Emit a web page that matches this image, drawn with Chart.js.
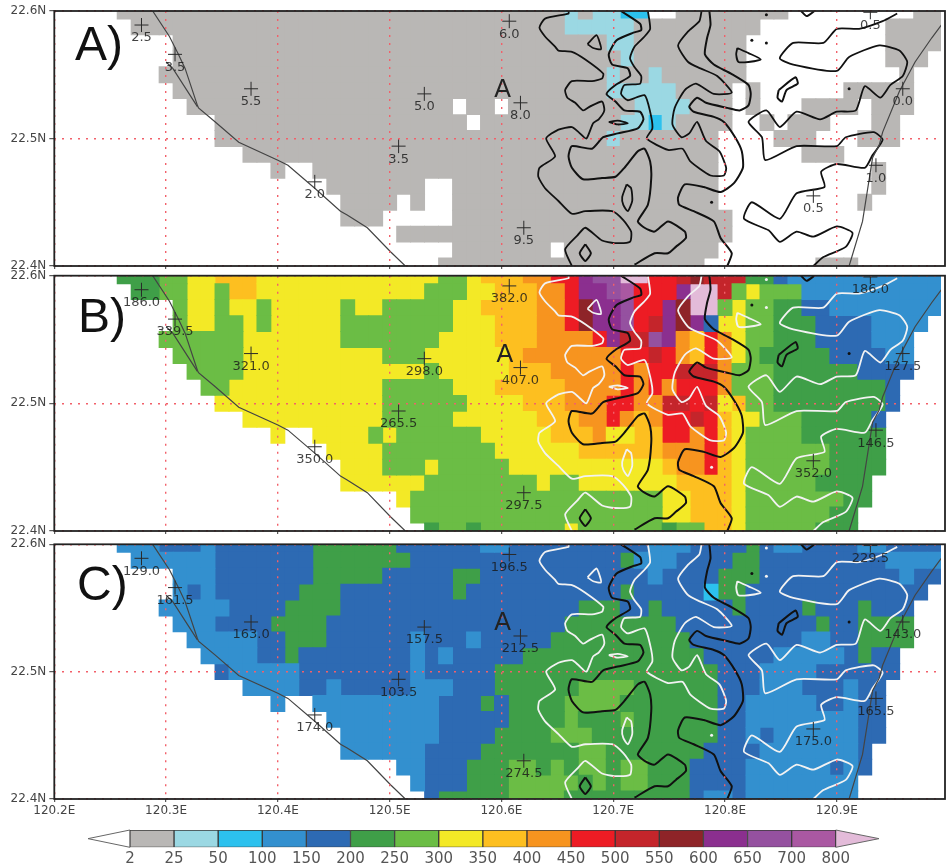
<!DOCTYPE html>
<html><head><meta charset="utf-8">
<style>
html,body{margin:0;padding:0;background:#fff;overflow:hidden}
#wrap{position:relative;width:949px;height:868px}
canvas{position:absolute;left:0;top:0;filter:blur(0.55px)}
</style>
<script src="https://cdn.jsdelivr.net/npm/chart.js@4"></script>
</head><body><div id="wrap">
<canvas id="pa" width="949" height="868"></canvas>
<canvas id="pb" width="949" height="868"></canvas>
<canvas id="pc" width="949" height="868"></canvas>
<canvas id="bar" width="949" height="868"></canvas>
</div>
<script>
// colour-class edges (rain, mm) and the class letter used in the grids
const levelEdges=[2,25,50,100,150,200,250,300,350,400,450,500,550,600,650,700,800];
const levelKeys="abcdefghijklmnopq".split("");
const levelColors=["#b9b7b5","#9bd8e3","#2cc1ee","#3390cf","#2d6ab3","#3f9f48","#6bbd45","#f3e926","#fdbf20","#f7941f","#ed1c24","#c4252b","#8e2428","#8b2f8f","#9551a0","#aa58a2","#e3bbd9"];

// grid rows north to south; each token = class letter + first column of that run ('.' = no colour)
const gridA=[
"a5 b37 a38 b39 c41 .43 a45 .53 a62",
"a6 b37 a42 .51 a60",
"a9 b40 a42 .50 a60",
"a9 b41 a42 .50 a60 .63",
"a8 b40 a41 b43 a44 .50 a61 .62",
"a9 b40 a45 .49 a50 .51 a57 .62",
"a10 .29 a30 .32 a33 b42 a46 .49 a50 .51 a54 .58 a59 .62",
"a12 .30 a31 b41 c43 b44 a45 .49 a51 .52 a53 .56 a59 .61",
"a12 b40 a41 .48 a52 .55 a58 .61",
"a14 .48 a54 .57",
"a16 .17 a19 .48 a59 .60",
"a20 .27 a29 .48 a59 .60",
"a21 .25 a26 .27 a29 .48 a58 .59",
"a21 .24 a29 .49",
"a25 .49",
"a29 .36 a37 .48",
"a28 .47 a55 .58"];
const gridB=[
"f5 g8 h10 i12 h15 g28 h30 i31 j34 k36 n38 o39 q41 k43 l45 m46 l47 f50 e52 d53",
"f6 g8 h10 g12 i13 h15 g27 h30 i32 j35 k37 n38 o40 p41 k42 n45 q46 l48 g49 h50 g51 d54",
"g9 h10 g12 h13 g15 h16 g21 h22 g24 h29 i31 j35 k37 m38 n39 o41 k42 n44 m45 q46 g48 h49 g50 f52 e54 d56",
"g9 h10 g12 h14 g15 h16 g21 h29 i32 j35 k37 m38 n39 o41 k42 l43 n44 m45 n46 e47 h48 g50 f52 e55 d59 .63",
"g8 h14 g21 h28 i32 j35 k39 n40 l41 o43 n44 j45 i46 k47 j48 h49 g50 f52 e55 d59 .62",
"g9 h14 g24 h27 i33 j34 k41 l43 k44 j45 i46 k47 j48 h49 g50 f51 e56 d60 .62",
"g10 h14 g27 h28 i33 j36 k41 j42 k43 l45 j48 g49 f52 e58 .62",
"g11 h13 g24 h29 i32 j37 k41 j42 k43 j44 k45 j48 g49 f52 e60 .61",
"h12 g24 h30 i34 j37 k40 j42 l44 k46 l47 h48 i49 g50 f52 e60 .61",
"h14 g24 h29 i35 j38 k40 j41 i42 j43 k44 l46 k47 i48 h49 g51 f54 e59 .60",
"h16 .17 h19 g23 h24 g25 h31 i36 j39 h40 i42 k44 j46 k47 i48 h49 g50 f54 .60",
"h20 g24 h32 i38 j44 k47 i48 h49 g50 f56 .60",
"h21 g24 h27 g28 h33 i44 j45 k47 i48 h49 g50 f56 .60",
"h21 g27 h35 g36 h38 i45 h49 g50 f55 .59",
"h25 g26 h44 i46 h49 g50 f57 .59",
"g26 h44 i46 h49 g50 f56 .58",
"f27 g28 f30 g31 h37 g38 f44 g45 i47 h49 g50 f55 .58"];
const gridC=[
"d5 e8 d11 e12 f19 e25 d31 e33 d43 e46 f50 e51 d52 e54 d58 e60",
"d6 e12 f19 e26 f41 d42 e45 f49 e51 d60",
"d9 e12 f19 e24 f29 e31 d43 e44 f48 e51 d61 e62",
"d9 e10 d11 e12 f18 e21 f29 e30 f41 e42 c47 f48 e50 .63",
"d8 e13 f17 e21 f38 e41 f43 e44 f49 e50 f54 e55 f58 e59 .62",
"d9 e12 f16 e20 f37 e45 f55 e56 f58 .62",
"d10 e15 f17 e20 d26 e27 d30 e31 f36 e46 d54 e56 f58 .62",
"d11 e15 f17 e18 d26 e27 d28 e29 f34 e47 d52 e57 f58 e59 .61",
"e12 d13 e18 d26 e27 f32 e48 d51 e55 .61",
"d14 e18 d20 e21 d26 e29 f32 g38 f42 e48 d51 e54 d57 e58 .60",
"d16 .17 d19 e28 f31 e32 f33 g37 f41 e48 d50 e55 d57 e58 .60",
"d20 e28 f33 g37 f38 g41 f42 e48 d50 e58 .60",
"d21 e28 f32 g36 f39 e48 d50 e51 d52 e58 .60",
"d21 e27 f31 g38 f40 e47 d51 e58 .59",
"d25 e27 f30 g33 f35 g36 f37 g38 f40 g41 f43 e46 d50 e56 d57 e58 .59",
"d26 e27 f30 g33 f38 g39 f40 g41 f43 e46 d50 .58",
"e27 f28 g33 f37 e46 d47 e49 d50 .58"];

// stations: longitude, latitude, and the value plotted in each panel
const stationLon=[120.278,120.308,120.376,120.433,120.508,120.531,120.607,120.617,120.620,120.879,120.935,120.959,120.930];
const stationLat=[22.589,22.566,22.539,22.466,22.494,22.535,22.592,22.528,22.430,22.455,22.479,22.539,22.599];
const stationA=["2.5","3.5","5.5","2.0","3.5","5.0","6.0","8.0","9.5","0.5","1.0","0.0","0.5"];
const stationB=["186.0","339.5","321.0","350.0","265.5","298.0","382.0","407.0","297.5","352.0","146.5","127.5","186.0"];
const stationC=["129.0","161.5","163.0","174.0","103.5","157.5","196.5","212.5","274.5","175.0","165.5","143.0","229.5"];

// contours and coast as [lon-120, lat-22] in thousandths of a degree
const contourLow=[
[[660,600],[660,598],[639,594],[634,587],[639,580],[648,572],[651,569],[663,568],[675,562],[691,551],[690,547],[681,545],[663,545],[657,538],[659,532],[666,528],[673,522],[679,525],[690,529],[692,522],[687,515],[682,512],[676,500],[669,505],[663,509],[651,507],[640,500],[648,486],[634,477],[633,470],[639,461],[651,451],[663,441],[675,443],[699,443],[709,436],[716,427],[715,419],[701,418],[690,420],[675,430],[668,424],[657,413],[663,400]],
[[677,574],[685,581],[688,575],[689,570],[682,571],[677,574]],
[[712,464],[716,461],[717,451],[713,443],[709,448],[708,454],[712,464]],
[[696,513],[704,514],[713,512],[704,511],[696,513]],
[[731,600],[733,586],[728,580],[719,572],[715,563],[719,556],[725,549],[724,543],[710,542],[707,535],[713,530],[728,534],[733,521],[735,508],[730,500],[749,491],[762,492],[769,482],[787,471],[799,471],[801,477],[795,490],[783,498],[775,513],[768,504],[761,501],[753,511],[755,524],[764,538],[774,543],[790,535],[806,536],[793,549],[778,555],[767,560],[758,573],[767,584],[777,592],[779,600]],
[[811,571],[821,567],[832,562],[821,560],[812,560],[810,566],[811,571]],
[[954,598],[941,592],[920,586],[900,586],[888,575],[861,575],[849,563],[861,558],[900,553],[911,564],[938,573],[956,569],[963,560],[959,549],[948,542],[939,532],[925,541],[917,522],[900,521],[885,515],[864,521],[849,509],[837,522],[821,513],[833,501],[836,483],[864,494],[900,494],[908,501],[933,505],[941,499],[932,487],[925,477],[900,480],[886,474],[889,462],[864,457],[849,437],[824,450],[817,437],[839,428],[849,419],[864,427],[879,423],[900,431],[914,426],[908,415],[888,407],[879,400]]];
const contourHigh=[
[[707,600],[724,590],[725,585],[718,583],[703,577],[696,566],[699,558],[713,555],[715,549],[702,542],[694,535],[702,529],[710,522],[724,521],[727,515],[722,508],[704,504],[691,501],[681,492],[663,494],[660,486],[663,477],[673,468],[690,469],[702,470],[710,477],[722,490],[728,492],[733,482],[734,469],[731,448],[722,435],[728,430],[737,427],[749,435],[764,427],[765,422],[756,415],[749,410],[737,410],[719,401]],
[[786,600],[787,589],[784,579],[782,566],[790,558],[805,551],[821,542],[823,535],[821,526],[813,522],[802,524],[783,528],[775,532],[768,525],[772,521],[790,517],[799,513],[809,501],[815,490],[816,477],[808,465],[796,458],[781,462],[764,464],[758,454],[759,448],[772,443],[790,435],[796,422],[806,410],[802,400]],
[[848,538],[863,548],[865,543],[855,538],[851,529],[847,532],[848,538]],
[[868,600],[873,596],[880,600]],
[[675,417],[680,410],[675,404],[670,410],[675,417]]];
const coastWest=[[288,600],[303,580],[311,566],[317,555],[328,526],[329,524],[344,513],[365,497],[400,483],[409,479],[433,461],[456,443],[462,440],[480,430],[501,411],[514,400]];
const coastBranch=[[328,525],[306,555],[300,560]];
const coastEast=[[911,400],[923,435],[932,485],[938,495],[941,505],[956,537],[970,560],[985,579],[996,592]];
const blipsHigh=[[824,577],[911,539]];
const blipsLow=[[837,575],[837,597],[788,450]];

const panels=[
 {id:"pa",grid:gridA,values:stationA,tag:"A)",tagX:75,tagY:60,markX:120.601,markY:22.5325,top:11,bottom:266,lowColor:"#111",xLabels:false},
 {id:"pb",grid:gridB,values:stationB,tag:"B)",tagX:78,tagY:332,markX:120.603,markY:22.5325,top:275.7,bottom:531,lowColor:"#f2f2f2",xLabels:false},
 {id:"pc",grid:gridC,values:stationC,tag:"C)",tagX:77,tagY:600,markX:120.601,markY:22.5325,top:544.3,bottom:799,lowColor:"#f2f2f2",xLabels:true}
];
const cellSize=0.0125, lonMin=120.2, latMax=22.6;
const toXY=([a,b])=>({x:120+a/1000,y:22+b/1000});
const FONT="'DejaVu Sans'";

function expandRow(text){
  const cells=new Array(64).fill(".");
  const toks=text.split(" ");
  toks.forEach((t,i)=>{
    const start=+t.slice(1), end=i+1<toks.length?+toks[i+1].slice(1):64;
    for(let k=start;k<end;k++)cells[k]=t[0];
  });
  return cells;
}
function cellDatasets(grid){
  return levelKeys.map((key,li)=>{
    const data=[];
    grid.forEach((row,j)=>expandRow(row).forEach((c,k)=>{
      if(c===key){
        const lon=lonMin+k*cellSize;
        data.push({y:latMax-j*cellSize,x:[lon-cellSize/2,lon+cellSize/2]});
      }
    }));
    return {type:"bar",indexAxis:"y",grouped:false,label:String(levelEdges[li]),data,backgroundColor:levelColors[li],
      borderWidth:0,inflateAmount:0.45,barPercentage:1,categoryPercentage:1,order:5};
  });
}
const lineSet=(pts,color,width,order)=>({type:"scatter",showLine:true,data:pts.map(toXY),borderColor:color,borderWidth:width,
  pointRadius:0,tension:0.2,fill:false,order});
function addOverlays(p,datasets){
  contourLow.forEach(c=>datasets.push(lineSet(c,p.lowColor,1.8,3)));
  contourHigh.forEach(c=>datasets.push(lineSet(c,"#111",2,2)));
  [coastWest,coastBranch,coastEast].forEach(c=>{
    const s=lineSet(c,"#444",1.2,1);s.tension=0;datasets.push(s);
  });
  datasets.push({type:"scatter",data:blipsHigh.map(toXY),pointRadius:1.5,backgroundColor:"#111",borderWidth:0,order:2});
  datasets.push({type:"scatter",data:blipsLow.map(toXY),pointRadius:1.5,backgroundColor:p.lowColor,borderWidth:0,order:3});
  datasets.push({type:"scatter",data:stationLon.map((x,i)=>({x,y:stationLat[i]})),pointStyle:"cross",pointRadius:7,
    borderColor:"#2a2a2a",borderWidth:1,order:0});
}

const panelPlugin={
  id:"panelDecor",
  afterDraw(chart,args,o){
    const {ctx,chartArea:a,scales:{x,y}}=chart;
    ctx.save();
    ctx.fillStyle="rgba(25,25,25,0.82)";
    ctx.font="13px "+FONT;ctx.textAlign="center";ctx.textBaseline="middle";
    o.values.forEach((t,i)=>ctx.fillText(t,x.getPixelForValue(stationLon[i]),y.getPixelForValue(stationLat[i])+13));
    ctx.fillStyle="#222";ctx.textAlign="center";ctx.textBaseline="alphabetic";
    ctx.font="25px 'Liberation Sans'";
    ctx.fillText("A",x.getPixelForValue(o.markX),y.getPixelForValue(o.markY));
    ctx.fillStyle="#111";ctx.textAlign="left";
    ctx.font="48px 'Liberation Sans'";
    ctx.fillText(o.tag,o.tagX,o.tagY);
    ctx.strokeStyle="#222";ctx.lineWidth=1.8;
    ctx.strokeRect(a.left,a.top,a.right-a.left+4,a.bottom-a.top);
    ctx.restore();
  }
};

panels.forEach(p=>{
  const datasets=cellDatasets(p.grid);
  addOverlays(p,datasets);
  new Chart(document.getElementById(p.id),{
    type:"bar",
    data:{datasets},
    plugins:[panelPlugin],
    options:{
      responsive:false,animation:false,
      layout:{padding:{top:p.top,left:0,right:0,bottom:0}},
      plugins:{legend:{display:false},tooltip:{enabled:false},
        panelDecor:{values:p.values,tag:p.tag,tagX:p.tagX,tagY:p.tagY,markX:p.markX,markY:p.markY}},
      scales:{
        x:{type:"linear",offset:false,min:120.2,max:120.9932,
          afterFit:s=>{s.height=868-p.bottom},
          border:{display:false,dash:[2,6]},
          grid:{offset:false,z:1,color:"#f2606a",lineWidth:1.4,tickColor:"#333",tickWidth:1,tickLength:3,tickBorderDash:[]},
          ticks:{stepSize:0.1,includeBounds:false,autoSkip:false,maxRotation:0,padding:2,color:"#444",
            font:{family:FONT,size:12},callback:v=>p.xLabels?Number(v).toFixed(1)+"E":""}},
        y:{type:"linear",offset:false,min:22.4,max:22.6,
          afterFit:s=>{s.width=54.3},
          border:{display:false,dash:[2,6]},
          grid:{offset:false,z:1,color:"#f2606a",lineWidth:1.4,tickColor:"#333",tickWidth:1,tickLength:5,tickBorderDash:[]},
          ticks:{stepSize:0.1,autoSkip:false,padding:3,color:"#444",
            font:{family:FONT,size:12},callback:v=>Number(v).toFixed(1)+"N"}}
      }
    }
  });
});

// colour bar: sixteen equal boxes, pointed ends for below 2 and above 800
const barBoxes=levelColors.slice(0,16);
const endsPlugin={
  id:"barEnds",
  beforeDatasetsDraw(chart){
    const {ctx,chartArea:a,scales:{x}}=chart;
    const mid=(a.top+a.bottom)/2;
    const tri=(from,to,fill)=>{
      ctx.beginPath();ctx.moveTo(x.getPixelForValue(from),a.top);ctx.lineTo(x.getPixelForValue(to),mid);
      ctx.lineTo(x.getPixelForValue(from),a.bottom);ctx.closePath();
      ctx.fillStyle=fill;ctx.fill();ctx.strokeStyle="#666";ctx.lineWidth=1;ctx.stroke();
    };
    ctx.save();
    tri(0,-0.95,"#fff");
    tri(16,16.98,levelColors[16]);
    ctx.restore();
  }
};
new Chart(document.getElementById("bar"),{
  type:"bar",
  data:{labels:["rain"],datasets:barBoxes.map((c,i)=>({label:String(levelEdges[i]),data:[1],backgroundColor:c,
    borderColor:"#3a3a3a",borderWidth:1,borderSkipped:false,barPercentage:1,categoryPercentage:1}))},
  plugins:[endsPlugin],
  options:{
    indexAxis:"y",responsive:false,animation:false,
    layout:{padding:{top:830,left:88,right:70,bottom:0}},
    plugins:{legend:{display:false},tooltip:{enabled:false}},
    scales:{
      x:{type:"linear",stacked:true,min:-0.95,max:16.98,afterFit:s=>{s.height=868-847.3},
        border:{display:false},grid:{display:false,drawTicks:false},
        ticks:{stepSize:1,includeBounds:false,autoSkip:false,maxRotation:0,padding:3,color:"#555",
          font:{family:FONT,size:15},callback:v=>levelEdges[Math.round(v)]}},
      y:{stacked:true,display:false}
    }
  }
});
</script>
</body></html>
